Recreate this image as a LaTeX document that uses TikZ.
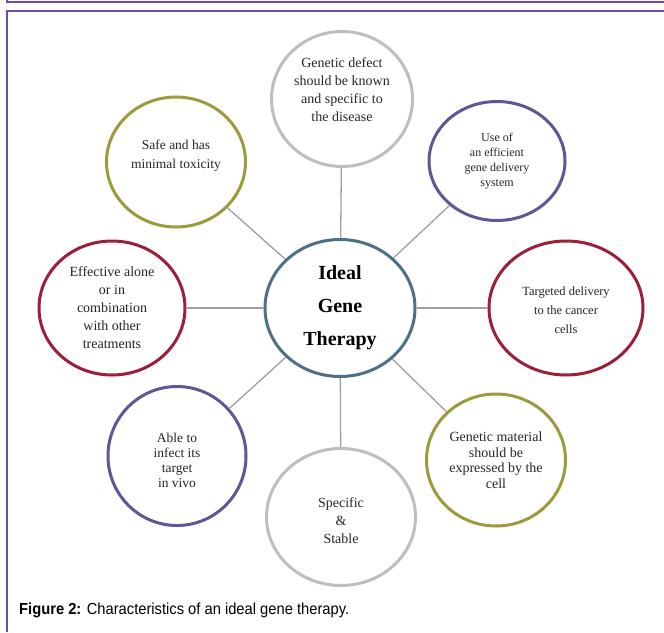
\documentclass[tikz,border=0pt]{standalone}
\usepackage{fontspec}
\setmainfont{Liberation Serif}
\newfontfamily\captionfont[FakeStretch=0.92]{Liberation Sans}
\usepackage{xcolor}
\usepackage{tikz}
\usetikzlibrary{shapes.geometric}
\definecolor{GeneGray}{RGB}{190, 190, 190}
\definecolor{GeneOlive}{RGB}{155, 155, 61}
\definecolor{GenePurple}{RGB}{95, 86, 152}
\definecolor{GeneRed}{RGB}{156, 31, 58}
\definecolor{GeneSteel}{RGB}{77, 112, 133}
\definecolor{GeneLine}{RGB}{160, 160, 160}
\definecolor{FrameViolet}{RGB}{110, 75, 176}

\begin{document}
\begin{tikzpicture}[
    x=1pt, y=-1pt,
    hub/.style={ellipse, draw=GeneSteel, line width=3pt, fill=white, minimum width=150pt, minimum height=137pt, inner sep=0pt, align=center, font=\fontsize{20}{33}\selectfont\bfseries},
    trait/.style={ellipse, line width=3pt, fill=white, inner sep=0pt, align=center, text=black!85},
    spoke/.style={draw=GeneLine, line width=1.3pt},
    frame/.style={draw=FrameViolet, line width=1.3pt}
  ]
    \useasboundingbox (0,0) rectangle (664,632);
    \fill[white] (0,0) rectangle (664,632);
    \draw[frame] (7,0) -- (7,2) -- (664,2);
    \draw[frame] (664,11) -- (7,11) -- (7,632);

    \node[hub] (ideal) at (340,308) {Ideal\\Gene\\Therapy};

    \node[trait, draw=GeneGray, minimum width=141pt, minimum height=135pt, text depth=18pt, font=\fontsize{14}{18}\selectfont] (defect) at (342,99) {Genetic defect\\should be known\\and specific to\\the disease};
    \node[trait, draw=GenePurple, minimum width=136pt, minimum height=119pt, font=\fontsize{12}{15}\selectfont] (delivery) at (497,161) {Use of\\an efficient\\gene delivery\\system};
    \node[trait, draw=GeneRed, minimum width=154pt, minimum height=134pt, text height=52pt, font=\fontsize{12.5}{19}\selectfont] (targeted) at (566,308) {Targeted delivery\\to the cancer\\cells};
    \node[trait, draw=GeneOlive, minimum width=139pt, minimum height=132pt, font=\fontsize{14}{15.5}\selectfont] (expressed) at (496,460) {Genetic material\\should be\\expressed by the\\cell};
    \node[trait, draw=GeneGray, minimum width=149pt, minimum height=137pt, text height=53pt, font=\fontsize{14}{18}\selectfont] (stable) at (341,517) {Specific\\\&\\Stable};
    \node[trait, draw=GenePurple, minimum width=138pt, minimum height=139pt, text height=64pt, font=\fontsize{13.5}{15}\selectfont] (infect) at (177,456) {Able to\\infect its\\target\\in vivo};
    \node[trait, draw=GeneRed, minimum width=146pt, minimum height=134pt, font=\fontsize{14}{18}\selectfont] (combination) at (112,308) {Effective alone\\or in\\combination\\with other\\treatments};
    \node[trait, draw=GeneOlive, minimum width=139pt, minimum height=130pt, text depth=16pt, font=\fontsize{13.5}{19}\selectfont] (safe) at (176,162) {Safe and has\\minimal toxicity};

    \foreach \trait in {defect, delivery, targeted, expressed, stable, infect, combination, safe}
      \draw[spoke] (ideal) -- (\trait);

    \node[anchor=base west, inner sep=0pt, font=\captionfont\fontsize{16}{18}\selectfont] (caption) at (19,614) {\textbf{Figure 2:} Characteristics of an ideal gene therapy.};
\end{tikzpicture}
\end{document}
